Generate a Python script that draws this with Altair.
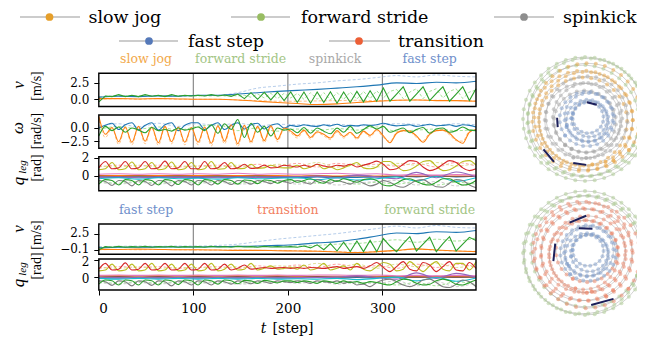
import altair as alt
import numpy as np
import pandas as pd

SERIF = "DejaVu Serif"
SERIF2 = "Liberation Serif"
W, H = 629, 329

# ---------------- time grids (simulation steps) ----------------
T7 = list(range(0, 400, 7))    # 58 samples 0..399
T21 = list(range(0, 400, 21))  # 20 samples 0..399

SEG_TOP = ["slow jog", "forward stride", "spinkick", "fast step"]
SEG_TOP_T = [50, 150, 250, 350]
SEG_BOT = ["fast step", "transition", "forward stride"]
SEG_BOT_T = [50, 200, 350]
SEP_TOP = [100, 200, 300]
SEP_BOT = [100, 300]
LEGEND = ["slow jog", "forward stride", "spinkick", "fast step", "transition"]

# ---------------- upper block: v [m/s] ----------------
V1_GREEN = ([-0.4, 0.5, 0.4, 0.7, 0.4, 0.6, 0.4, 0.7, 0.45, 0.6, 0.4, 0.7, 0.45, 0.6, 0.5]
            + [0.6, 0.5, 0.7, 0.5, 0.65, 0.45, 0.8, 0.1, 1.0, 0.0, 1.05, -0.1, 1.1, -0.2]
            + [1.1, -0.5, 1.1, -0.6, 1.1, -0.5, 1.15, -0.6, 1.1, -0.5, 1.2, -0.4, 1.3, -0.3]
            + [1.7, -0.3, 0.8, 1.9, -0.3, 0.8, 1.9, -0.2, 0.9, 1.9, -0.3, 0.8, 1.9, -0.2, 1.6])
V1_LGREEN = ([0.3, 0.4, 0.45, 0.5, 0.45, 0.5, 0.45, 0.5, 0.5, 0.5, 0.45, 0.5, 0.5, 0.5, 0.5]
             + [0.5, 0.55, 0.5, 0.6, 0.5, 0.6, 0.5, 0.6, 0.3, 0.8, 0.2, 0.9, 0.1, 0.9]
             + [0.2, 0.9, 0.0, 1.0, 0.0, 1.0, -0.1, 1.0, 0.0, 1.1, 0.0, 1.2, 0.1, 1.3]
             + [0.2, 1.2, 1.5, 0.1, 1.1, 1.6, 0.1, 1.2, 1.6, 0.2, 1.2, 1.6, 0.1, 1.1, 1.4])
V1_BLUE = [0.3, 0.45, 0.4, 0.5, 0.45, 0.6, 0.6, 0.8, 1.0, 1.2, 1.35, 1.5, 1.7, 1.9, 2.15, 2.5, 2.4, 2.6, 2.5, 2.75]
V1_LBLUE = [0.4, 0.55, 0.5, 0.55, 0.5, 0.55, 0.6, 1.0, 1.7, 2.0, 2.3, 2.5, 2.8, 3.0, 3.3, 3.6, 3.4, 3.7, 3.5, 3.4]
V1_ORANGE = [0.1, 0.1, 0.05, 0.1, 0.05, 0.0, 0.0, -0.1, -0.3, -0.5, -0.65, -0.8, -0.7, -0.5, -0.3, -0.15, -0.1, -0.2, -0.2, -0.3]
V1_LORANGE = [0.0, 0.1, 0.0, 0.1, 0.0, 0.0, 0.0, -0.1, -0.2, -0.3, -0.3, -0.25, -0.2, -0.15, -0.2, -0.15, -0.1, -0.15, -0.2, -0.25]

# ---------------- upper block: omega [rad/s] ----------------
W1_BLUE = ([0.0, 0.5, 0.9, -0.3, 0.6, 1.0, -0.4, 0.5, 1.0, -0.4, 0.6, 1.0, -0.5, 0.5, 1.0]
           + [1.0, -0.3, 0.5, 1.0, -0.3, 0.5, 1.0, -0.2, 0.6, 0.9, -0.2, 0.5, 0.8, 0.0]
           + [0.5, 0.3, 0.6, 0.4, 0.3, 0.6, 0.4, 0.7, 0.3, 0.5, 0.4, 0.6, 0.5, 0.6]
           + [0.9, 0.6, 0.4, 0.5, 0.6, 0.3, 0.5, 0.7, 0.4, 0.5, 0.6, 0.3, 0.6, 0.5, 0.2])
W1_ORANGE = ([2.2, -1.2, 0.1, -2.6, 0.2, -2.7, 0.3, -2.5, 0.2, -2.8, 0.3, -2.6, 0.2, -2.7, 0.1]
             + [-2.7, 0.2, -2.9, 0.4, -2.5, 0.6, -3.0, 0.5, -2.6, 0.3, -2.4, 0.4, -2.2, 0.0]
             + [-0.6, -1.5, -0.4, -1.8, -0.7, -1.2, -1.9, -0.5, -1.6, -0.8, -1.9, -0.6, -1.4, -0.3]
             + [-1.5, -2.8, -1.0, -0.5, -0.6, -1.5, -2.7, -1.2, -0.5, -0.4, -1.0, -2.2, -2.9, -0.8, -0.3])
W1_GREEN = ([-1.5, 0.3, -0.5, 0.2, -0.8, 0.0, -0.4, -0.9, 0.1, -0.5, -0.3, -0.6, 0.0, -0.4, -0.2]
            + [0.2, -0.5, 0.6, -1.0, 0.8, -0.3, 1.6, -1.8, 0.9, -0.8, 0.3, -1.5, 0.0, -0.4]
            + [-0.2, -0.9, 0.1, -1.0, 0.0, -0.6, -1.1, 0.0, -0.8, 0.3, -1.0, -0.3, 0.4, -0.2]
            + [0.3, -0.8, -0.4, 0.0, -0.9, -0.3, 0.1, -1.0, -0.2, 0.0, -0.8, -0.5, 0.2, -0.4, -0.5])
W1_LORANGE = ([1.5, -1.8, 0.0, -3.1, 0.0, -3.2, 0.1, -3.0, 0.0, -3.3, 0.1, -3.0, 0.0, -3.2, -0.1]
              + [-3.2, 0.0, -3.4, 0.2, -3.0, 0.3, -3.5, 0.2, -3.0, 0.1, -2.8, 0.1, -2.6, -0.2]
              + [-0.9, -1.9, -0.6, -2.1, -0.9, -1.5, -2.2, -0.8, -1.9, -1.0, -2.2, -0.8, -1.7, -0.5]
              + [-1.8, -2.5, -0.8, -0.4, -0.7, -1.8, -2.4, -0.9, -0.4, -0.5, -1.3, -2.4, -2.5, -0.6, -0.4])
W1_LGREEN = [-0.3, 0.3, -0.2, 0.2, -0.4, 0.3, 0.6, -0.5, 0.0, -0.6, -0.2, -0.5, -0.1, -0.4, 0.2, -0.6, -0.4, -0.2, -0.5, -0.3]
W1_LBLUE = [0.3, 0.8, 0.2, 0.9, 0.3, 0.8, 0.5, 0.9, 0.4, 0.7, 0.6, 0.5, 0.7, 0.4, 0.6, 0.8, 0.7, 0.5, 0.8, 0.6]

# ---------------- upper block: q_leg [rad] ----------------
Q1_RED = ([0.9, 1.6, 0.8, 0.9, 1.6, 0.8, 0.9, 1.6, 0.8, 0.9, 1.65, 0.8, 0.9, 1.6, 0.8]
          + [0.8, 1.6, 0.8, 0.9, 1.5, 0.8, 0.9, 1.3, 0.85, 0.9, 1.2, 0.9, 0.95, 1.2]
          + [1.1, 1.0, 1.2, 1.0, 1.3, 1.1, 1.0, 1.2, 1.1, 1.3, 1.0, 1.2, 1.4, 1.65]
          + [1.3, 0.7, 0.8, 1.3, 1.7, 1.6, 1.0, 0.6, 0.8, 1.3, 1.7, 1.5, 0.9, 0.6, 0.8])
Q1_OLIVE = ([0.7, 0.8, 1.5, 0.7, 0.8, 1.55, 0.7, 0.8, 1.5, 0.7, 0.8, 1.55, 0.7, 0.8, 1.5]
            + [0.7, 0.8, 1.6, 0.75, 0.8, 1.5, 0.8, 0.85, 1.3, 0.85, 0.9, 1.2, 0.95, 0.9]
            + [0.9, 1.2, 0.8, 1.0, 1.3, 0.8, 1.0, 0.7, 0.9, 1.2, 1.5, 0.9, 0.8, 1.0]
            + [1.6, 1.6, 1.1, 0.6, 0.7, 1.1, 1.6, 1.7, 1.1, 0.6, 0.7, 1.1, 1.6, 1.7, 1.2])
Q1_GRAY = ([-0.5, -0.6, -1.05, -0.5, -0.6, -1.1, -0.5, -0.6, -1.05, -0.5, -0.6, -1.1, -0.5, -0.6, -1.0]
           + [-0.5, -0.6, -1.0, -0.5, -0.6, -0.95, -0.5, -0.6, -0.9, -0.5, -0.6, -0.85, -0.5, -0.6]
           + [-0.8, -0.5, -0.7, -0.9, -0.4, -0.6, -0.8, -0.5, -0.7, -0.9, -0.5, -0.8, -1.1, -0.9]
           + [-0.5, -0.7, -1.1, -1.25, -0.9, -0.5, -0.4, -0.8, -1.2, -1.25, -0.8, -0.4, -0.5, -1.0, -1.3])
Q1_GREEN = ([-0.9, -0.4, -0.5, -1.0, -0.4, -0.5, -1.0, -0.4, -0.5, -1.0, -0.4, -0.5, -0.95, -0.4, -0.5]
            + [-1.0, -0.4, -0.5, -0.9, -0.4, -0.5, -0.9, -0.45, -0.5, -0.85, -0.45, -0.5, -0.8, -0.5]
            + [-0.4, -0.7, -0.5, -0.3, -0.6, -0.8, -0.4, -0.6, -0.3, -0.5, -0.7, -0.4, -0.3, -0.5]
            + [-1.0, -1.1, -0.8, -0.4, -0.3, -0.6, -0.9, -1.0, -0.7, -0.3, -0.3, -0.7, -1.0, -0.9, -0.5])
Q1_CYAN = [-0.3, -0.2, -0.35, -0.2, -0.3, -0.25, -0.35, -0.2, -0.3, -0.25, -0.2, -0.4, -0.2, -0.45, -0.3, -0.1, -0.55, -0.05, -0.6, -0.2]
Q1_PURPLE = [-0.15, -0.1, -0.2, -0.1, -0.15, -0.1, -0.2, -0.1, -0.15, -0.1, -0.1, 0.0, -0.2, 0.1, -0.1, -0.3, 0.4, -0.2, 0.45, -0.1]
Q1_PINK = [0.2, 0.25, 0.2, 0.25, 0.2, 0.25, 0.2, 0.3, 0.2, 0.25, 0.2, 0.25, 0.3, 0.2, 0.25, 0.1, 0.15, 0.1, 0.15, 0.1]
Q1_ORANGE = [0.05, 0.05, 0.05, 0.05, 0.05, 0.05, 0.05, 0.05, 0.05, 0.05, 0.0, 0.05, 0.0, 0.05, 0.0, 0.0, 0.0, 0.0, 0.0, 0.0]
Q1_BLUE = [-0.1, -0.15, -0.1, -0.15, -0.1, -0.15, -0.1, -0.15, -0.1, -0.15, -0.2, -0.1, -0.2, -0.15, -0.1, 0.0, -0.1, 0.05, -0.1, 0.0]
Q1_BROWN = [0.0, -0.05, 0.0, -0.05, 0.0, -0.05, 0.0, -0.05, 0.0, -0.05, -0.05, 0.0, -0.05, 0.0, -0.05, -0.05, -0.05, -0.05, -0.05, -0.05]
Q1_LGREEN = [-0.6, -0.8, -0.6, -0.8, -0.6, -0.7, -0.6, -0.8, -0.6, -0.7, -0.5, -0.8, -0.6, -0.9, -0.7, -0.9, -0.6, -1.0, -0.7, -0.9]
Q1_LGRAY = [-0.7, -0.9, -0.7, -0.9, -0.7, -0.8, -0.7, -0.9, -0.8, -0.6, -0.9, -0.7, -1.0, -0.8, -0.6, -0.5, -1.0, -0.6, -1.1, -0.7]
Q1_LRED = [1.0, 1.2, 1.1, 1.2, 1.0, 1.1, 1.2, 1.0, 1.3, 1.1, 1.4, 1.0, 1.4, 1.2, 1.3, 1.1, 1.4, 1.0, 1.5, 1.1]
Q1_LOLIVE = [1.1, 1.0, 1.2, 1.0, 1.1, 1.1, 1.0, 1.2, 0.9, 1.3, 1.1, 1.5, 1.0, 1.3, 1.0, 1.4, 1.2, 1.5, 1.1, 1.4]

# ---------------- lower block: v [m/s] ----------------
V2_GREEN = ([0.0, 0.5, 0.4, 0.55, 0.4, 0.5, 0.45, 0.55, 0.4, 0.5, 0.45, 0.55, 0.4, 0.5, 0.45]
            + [0.5, 0.4, 0.55, 0.45, 0.5, 0.4, 0.55, 0.45, 0.5, 0.4, 0.55, 0.45, 0.5, 0.45]
            + [0.5, 0.4, 0.6, 0.3, 0.8, 0.0, 1.0, -0.2, 1.2, -0.3, 1.4, -0.3, 1.5, -0.3]
            + [1.8, 0.6, -0.3, 1.0, 2.1, -0.2, 0.9, 2.0, -0.3, 1.0, 2.1, -0.2, 0.9, 2.0, 1.5])
V2_LGREEN = [0.4, 0.45, 0.45, 0.5, 0.45, 0.5, 0.5, 0.55, 0.5, 0.6, 0.6, 0.7, 0.9, 1.0, 1.3, 1.6, 1.2, 1.7, 1.4, 1.9]
V2_BLUE = [0.3, 0.4, 0.4, 0.45, 0.45, 0.45, 0.5, 0.55, 0.6, 0.7, 0.85, 1.1, 1.3, 1.7, 2.2, 2.7, 2.6, 2.9, 2.8, 3.1]
V2_LBLUE = [0.5, 0.55, 0.6, 0.55, 0.6, 0.6, 0.7, 0.9, 1.3, 1.7, 2.0, 2.3, 2.6, 3.0, 3.4, 3.8, 3.5, 3.9, 3.6, 3.5]
V2_ORANGE = [0.1, 0.05, 0.1, 0.05, 0.0, 0.0, -0.05, -0.1, -0.1, -0.15, -0.2, -0.25, -0.35, -0.45, -0.3, -0.1, 0.15, -0.05, -0.2, -0.3]
V2_LORANGE = [0.0, 0.05, 0.0, 0.05, 0.0, -0.05, -0.05, -0.05, -0.1, -0.1, -0.15, -0.2, -0.3, -0.4, -0.3, -0.15, 0.1, -0.1, -0.2, -0.25]

# ---------------- lower block: q_leg [rad] ----------------
Q2_RED = ([0.9, 1.6, 0.8, 0.9, 1.65, 0.8, 0.9, 1.6, 0.8, 0.9, 1.6, 0.8, 0.9, 1.6, 0.8]
          + [0.9, 1.6, 0.8, 0.9, 1.5, 0.8, 1.0, 1.4, 0.9, 1.0, 1.1, 1.0, 1.05, 1.1]
          + [1.0, 1.1, 1.0, 1.1, 1.05, 1.0, 1.1, 1.2, 1.0, 1.1, 1.2, 1.0, 1.3, 1.7]
          + [1.1, 0.6, 1.2, 1.8, 0.9, 0.7, 1.7, 1.4, 0.6, 1.2, 1.8, 0.8, 0.7, 1.7, 1.0])
Q2_OLIVE = ([0.7, 0.8, 1.5, 0.7, 0.8, 1.5, 0.7, 0.8, 1.6, 0.7, 0.8, 1.5, 0.7, 0.8, 1.5]
            + [0.7, 0.8, 1.6, 0.7, 0.9, 1.5, 0.8, 0.9, 1.6, 0.8, 1.0, 1.3, 0.9, 1.0]
            + [1.1, 0.9, 1.4, 0.8, 1.0, 1.6, 0.8, 1.0, 1.3, 0.8, 1.6, 0.9, 0.7, 1.2]
            + [1.7, 1.5, 0.7, 0.9, 1.8, 1.2, 0.6, 1.3, 1.8, 0.9, 0.7, 1.6, 1.6, 0.8, 1.8])
Q2_GRAY = ([-0.5, -0.6, -1.05, -0.5, -0.6, -1.1, -0.5, -0.6, -1.05, -0.5, -0.6, -1.1, -0.5, -0.6, -1.0]
           + [-0.5, -0.6, -1.0, -0.5, -0.6, -0.9, -0.5, -0.6, -0.85, -0.5, -0.6, -0.8, -0.5, -0.6]
           + [-0.7, -0.5, -0.6, -0.8, -0.5, -0.6, -0.7, -0.5, -0.8, -0.6, -1.0, -0.9, -1.2, -0.7]
           + [-0.4, -0.3, -0.6, -1.0, -1.2, -0.9, -0.4, -0.3, -0.7, -1.2, -1.3, -0.9, -0.4, -0.6, -1.2])
Q2_GREEN = ([-0.9, -0.4, -0.5, -1.0, -0.4, -0.5, -1.0, -0.4, -0.5, -1.0, -0.4, -0.5, -0.95, -0.4, -0.5]
            + [-1.0, -0.4, -0.5, -0.9, -0.4, -0.5, -0.85, -0.45, -0.5, -0.8, -0.45, -0.55, -0.75, -0.5]
            + [-0.5, -0.7, -0.5, -0.6, -0.8, -0.5, -0.6, -0.8, -0.5, -0.7, -0.6, -0.8, -0.6, -0.7]
            + [-0.9, -1.0, -0.6, -0.3, -0.4, -0.8, -1.0, -0.9, -0.5, -0.3, -0.5, -0.9, -1.0, -0.7, -0.4])
Q2_CYAN = [-0.2, -0.3, -0.2, -0.3, -0.2, -0.3, -0.2, -0.3, -0.2, -0.3, -0.25, -0.3, -0.2, -0.35, -0.2, -0.05, -0.5, -0.1, -0.55, -0.15]
Q2_PURPLE = [-0.1, -0.15, -0.1, -0.15, -0.1, -0.15, -0.1, -0.15, -0.1, -0.15, -0.1, -0.1, -0.05, 0.1, -0.1, -0.3, 0.45, -0.2, 0.4, -0.1]
Q2_PINK = [0.15, 0.2, 0.15, 0.2, 0.15, 0.2, 0.15, 0.2, 0.15, 0.2, 0.15, 0.2, 0.2, 0.15, 0.2, 0.1, 0.15, 0.1, 0.15, 0.1]
Q2_ORANGE = [0.1, 0.1, 0.1, 0.1, 0.1, 0.1, 0.1, 0.1, 0.1, 0.1, 0.05, 0.05, 0.05, 0.05, 0.05, 0.0, 0.0, 0.0, 0.0, 0.0]
Q2_BLUE = [-0.1, -0.15, -0.1, -0.15, -0.1, -0.15, -0.1, -0.15, -0.1, -0.15, -0.15, -0.1, -0.2, -0.1, -0.15, 0.0, -0.1, 0.05, -0.1, 0.0]
Q2_BROWN = [-0.05, 0.0, -0.05, 0.0, -0.05, 0.0, -0.05, 0.0, -0.05, 0.0, -0.05, 0.0, -0.05, 0.0, -0.05, -0.05, -0.05, -0.05, -0.05, -0.05]
Q2_LGREEN = [-0.6, -0.8, -0.6, -0.8, -0.6, -0.7, -0.6, -0.8, -0.6, -0.7, -0.5, -0.7, -0.6, -0.8, -0.7, -1.0, -0.7, -1.1, -0.6, -1.0]
Q2_LGRAY = [-0.7, -0.9, -0.7, -0.9, -0.7, -0.8, -0.7, -0.9, -0.8, -0.6, -0.8, -0.6, -0.9, -0.7, -0.8, -0.5, -1.1, -0.6, -1.2, -0.7]
Q2_LRED = [1.0, 1.2, 1.1, 1.2, 1.0, 1.1, 1.2, 1.0, 1.3, 1.1, 1.4, 1.1, 1.5, 1.2, 1.3, 1.0, 1.5, 1.1, 1.5, 1.1]
Q2_LOLIVE = [1.1, 1.0, 1.2, 1.0, 1.1, 1.1, 1.0, 1.2, 1.0, 1.3, 1.2, 1.6, 1.1, 1.5, 1.0, 1.5, 1.2, 1.6, 1.1, 1.5]

# ---------------- trajectory rings (normalised radius, centre shift) ----------------
TOP_RING_R = [1.0, 0.95, 0.9, 0.86, 0.81, 0.76, 0.71, 0.66, 0.61, 0.56, 0.5, 0.44, 0.39, 0.34, 0.29, 0.25]
TOP_RING_DX = [0.0, 0.03, -0.03, 0.04, -0.04, 0.01, -0.03, 0.03, -0.04, 0.04, 0.0, 0.03, 0.06, 0.04, 0.07, 0.05]
TOP_RING_DY = [0.0, -0.03, 0.03, -0.04, 0.03, 0.0, 0.04, -0.03, 0.03, -0.02, 0.04, 0.0, -0.03, 0.03, 0.0, -0.02]
TOP_RING_N = [40, 40, 38, 36, 34, 34, 32, 30, 28, 28, 26, 24, 22, 22, 20, 18]
TOP_RING_KIND = (["forward stride"] * 3 + ["slow jog"] * 4 + ["spinkick"] * 4 + ["fast step"] * 5)
BOT_RING_R = [1.0, 0.95, 0.9, 0.85, 0.8, 0.74, 0.68, 0.62, 0.56, 0.5, 0.45, 0.4, 0.35, 0.3, 0.25]
BOT_RING_DX = [0.0, -0.03, 0.03, 0.04, -0.04, 0.03, -0.03, 0.04, -0.02, 0.03, 0.05, 0.06, 0.03, 0.07, 0.05]
BOT_RING_DY = [0.0, 0.03, -0.03, 0.04, -0.03, 0.03, -0.04, 0.02, 0.03, -0.03, 0.0, -0.03, 0.03, 0.0, -0.04]
BOT_RING_N = [40, 40, 38, 34, 34, 32, 30, 30, 28, 26, 24, 22, 22, 20, 18]
BOT_RING_KIND = (["forward stride"] * 3 + ["transition"] * 7 + ["fast step"] * 5)
TOP_ARROWS = [(0.03, -0.27, 0.19, -0.23), (-0.45, -0.02, -0.44, 0.13),
              (-0.67, 0.49, -0.50, 0.69), (-0.19, 0.71, 0.02, 0.74)]
BOT_ARROWS = [(-0.25, -0.49, 0.02, -0.60), (-0.10, -0.40, 0.12, -0.39), (-0.48, -0.15, -0.51, 0.13),
              (0.89, -0.12, 0.93, 0.15), (0.10, 0.84, 0.46, 0.74)]

# ---------------- styles ----------------
TAB = dict(blue="#1f77b4", orange="#ff7f0e", green="#2ca02c", red="#d62728", purple="#9467bd",
           brown="#8c564b", pink="#e377c2", gray="#7f7f7f", olive="#bcbd22", cyan="#17becf",
           lblue="#aec7e8", lorange="#ffbb78", lgreen="#98df8a", lred="#ff9896", lgray="#c7c7c7",
           lolive="#dbdb8d")
MODE_DOT = {"slow jog": "#e69f2a", "forward stride": "#98bd62", "spinkick": "#8e8e8e",
            "fast step": "#5579b9", "transition": "#ec5f36"}
MODE_TEXT = {"slow jog": "#f2a94b", "forward stride": "#a3c585", "spinkick": "#a8a8a8",
             "fast step": "#6f8fcb", "transition": "#f28062"}
RING_DOT = {"slow jog": "#eaa43f", "forward stride": "#a9c98e", "spinkick": "#a6a6a6",
            "fast step": "#7f9dcb", "transition": "#ee8466"}

SERIES = [
    ("v1", "lblue", T21, V1_LBLUE, "lblue", True, "monotone"),
    ("v1", "lorange", T21, V1_LORANGE, "lorange", True, "monotone"),
    ("v1", "lgreen", T7, V1_LGREEN, "lgreen", True, "linear"),
    ("v1", "blue", T21, V1_BLUE, "blue", False, "monotone"),
    ("v1", "orange", T21, V1_ORANGE, "orange", False, "monotone"),
    ("v1", "green", T7, V1_GREEN, "green", False, "linear"),
    ("w1", "lblue", T21, W1_LBLUE, "lblue", True, "monotone"),
    ("w1", "lgreen", T21, W1_LGREEN, "lgreen", True, "monotone"),
    ("w1", "lorange", T7, W1_LORANGE, "lorange", True, "monotone"),
    ("w1", "blue", T7, W1_BLUE, "blue", False, "monotone"),
    ("w1", "orange", T7, W1_ORANGE, "orange", False, "monotone"),
    ("w1", "green", T7, W1_GREEN, "green", False, "monotone"),
    ("q1", "lred", T21, Q1_LRED, "lred", True, "monotone"),
    ("q1", "lolive", T21, Q1_LOLIVE, "lolive", True, "monotone"),
    ("q1", "lgreen", T21, Q1_LGREEN, "lgreen", True, "monotone"),
    ("q1", "lgray", T21, Q1_LGRAY, "lgray", True, "monotone"),
    ("q1", "blue", T21, Q1_BLUE, "blue", False, "monotone"),
    ("q1", "orange", T21, Q1_ORANGE, "orange", False, "monotone"),
    ("q1", "brown", T21, Q1_BROWN, "brown", False, "monotone"),
    ("q1", "pink", T21, Q1_PINK, "pink", False, "monotone"),
    ("q1", "purple", T21, Q1_PURPLE, "purple", False, "monotone"),
    ("q1", "cyan", T21, Q1_CYAN, "cyan", False, "monotone"),
    ("q1", "gray", T7, Q1_GRAY, "gray", False, "monotone"),
    ("q1", "green", T7, Q1_GREEN, "green", False, "monotone"),
    ("q1", "olive", T7, Q1_OLIVE, "olive", False, "monotone"),
    ("q1", "red", T7, Q1_RED, "red", False, "monotone"),
    ("v2", "lblue", T21, V2_LBLUE, "lblue", True, "monotone"),
    ("v2", "lorange", T21, V2_LORANGE, "lorange", True, "monotone"),
    ("v2", "lgreen", T21, V2_LGREEN, "lgreen", True, "monotone"),
    ("v2", "blue", T21, V2_BLUE, "blue", False, "monotone"),
    ("v2", "orange", T21, V2_ORANGE, "orange", False, "monotone"),
    ("v2", "green", T7, V2_GREEN, "green", False, "linear"),
    ("q2", "lred", T21, Q2_LRED, "lred", True, "monotone"),
    ("q2", "lolive", T21, Q2_LOLIVE, "lolive", True, "monotone"),
    ("q2", "lgreen", T21, Q2_LGREEN, "lgreen", True, "monotone"),
    ("q2", "lgray", T21, Q2_LGRAY, "lgray", True, "monotone"),
    ("q2", "blue", T21, Q2_BLUE, "blue", False, "monotone"),
    ("q2", "orange", T21, Q2_ORANGE, "orange", False, "monotone"),
    ("q2", "brown", T21, Q2_BROWN, "brown", False, "monotone"),
    ("q2", "pink", T21, Q2_PINK, "pink", False, "monotone"),
    ("q2", "purple", T21, Q2_PURPLE, "purple", False, "monotone"),
    ("q2", "cyan", T21, Q2_CYAN, "cyan", False, "monotone"),
    ("q2", "gray", T7, Q2_GRAY, "gray", False, "monotone"),
    ("q2", "green", T7, Q2_GREEN, "green", False, "monotone"),
    ("q2", "olive", T7, Q2_OLIVE, "olive", False, "monotone"),
    ("q2", "red", T7, Q2_RED, "red", False, "monotone"),
]

rows = []
for panel_key, name, grid, vals, ckey, dashed, interp in SERIES:
    for t, v in zip(grid, vals):
        rows.append(dict(panel=panel_key, name=f"{panel_key}_{name}", t=t, val=v,
                         color=TAB[ckey], dashed=dashed, interp=interp))
LINES = pd.DataFrame(rows)

# ---------------- layout (chart pixel coordinates) ----------------
X_RANGE = [90.8, 468]
PANELS = {
    "v1": dict(domain=[-1.1, 3.95], range=[98.5, 65.3], ticks=[0, 2.5], fmt=".1f", seps=SEP_TOP, lo=0),
    "w1": dict(domain=[-3.85, 2.46], range=[140.3, 107], ticks=[-2.5, 0], fmt=".1f", seps=SEP_TOP, lo=0),
    "q1": dict(domain=[-1.63, 2.14], range=[182.7, 148.7], ticks=[0, 2], fmt="d", seps=SEP_TOP, lo=0),
    "v2": dict(domain=[-0.73, 4.14], range=[246.3, 216], ticks=[-0.1, 2.5], fmt=".1f", seps=SEP_BOT, lo=-1.5),
    "q2": dict(domain=[-1.6, 2.12], range=[282, 251], ticks=[0, 2], fmt="d", seps=SEP_BOT, lo=1.5),
}


def panel(key, xaxis=None, seg_names=None, seg_t=None, seg_y=None):
    cfg = PANELS[key]
    xs = alt.Scale(domain=[0, 399], range=X_RANGE, nice=False, zero=False)
    ys = alt.Scale(domain=cfg["domain"], range=cfg["range"], nice=False, zero=False)
    yax = alt.Axis(orient="left", offset=-X_RANGE[0], values=cfg["ticks"], format=cfg["fmt"],
                   domain=False, grid=False, tickSize=5, tickColor="black", tickWidth=1,
                   labelFont=SERIF, labelFontSize=12, labelColor="black", labelPadding=5,
                   labelOffset=cfg["lo"], title=None)

    def X(f):
        return alt.X(f, scale=xs, axis=xaxis)

    def Y(f):
        return alt.Y(f, scale=ys, axis=yax)

    dmin, dmax = cfg["domain"]
    sep = pd.DataFrame({"t": cfg["seps"], "y0": dmin, "y1": dmax})
    layers = [alt.Chart(sep).mark_rule(color="#8a8a8a", strokeWidth=1.2).encode(
        x=X("t:Q"), y=Y("y0:Q"), y2="y1:Q")]
    sub = LINES[LINES.panel == key]
    for dashed in (True, False):
        for interp in ("monotone", "linear"):
            d = sub[(sub.dashed == dashed) & (sub.interp == interp)]
            if d.empty:
                continue
            kw = dict(interpolate=interp, strokeWidth=0.9 if dashed else 1.1, clip=True)
            if dashed:
                kw["strokeDash"] = [3, 2]
            layers.append(alt.Chart(d).mark_line(**kw).encode(
                x=X("t:Q"), y=Y("val:Q"), color=alt.Color("color:N", scale=None), detail="name:N"))
    frame = pd.DataFrame({"x0": [0], "x1": [399], "y0": [dmin], "y1": [dmax]})
    layers.append(alt.Chart(frame).mark_rect(fillOpacity=0, stroke="black", strokeWidth=1.4).encode(
        x=X("x0:Q"), x2="x1:Q", y=Y("y0:Q"), y2="y1:Q"))
    if seg_names:
        seg = pd.DataFrame({"t": seg_t, "label": seg_names,
                            "color": [MODE_TEXT[s] for s in seg_names]})
        layers.append(alt.Chart(seg).mark_text(font=SERIF, fontSize=12.5, baseline="middle").encode(
            x=X("t:Q"), y=alt.value(seg_y), text="label:N", color=alt.Color("color:N", scale=None)))
    return alt.layer(*layers)


XAXIS = alt.Axis(orient="bottom", offset=-(H - 282), values=[0, 100, 200, 300], format="d",
                 domain=False, grid=False, tickSize=5, tickColor="black", tickWidth=1,
                 labelFont=SERIF, labelFontSize=13.5, labelColor="black", labelPadding=6, title=None)

panels = [
    panel("v1", seg_names=SEG_TOP, seg_t=SEG_TOP_T, seg_y=51),
    panel("w1"),
    panel("q1"),
    panel("v2", seg_names=SEG_BOT, seg_t=SEG_BOT_T, seg_y=202),
    panel("q2", xaxis=XAXIS),
]


# ---------------- trajectory circles ----------------
def circle_view(R, DX, DY, N, KIND, arrows, yrange, tag):
    rows = []
    for i, (r, dx, dy, n, kind) in enumerate(zip(R, DX, DY, N, KIND)):
        ph = 13.0 * i
        for k in range(n + 1):
            a = np.deg2rad(ph + 360.0 * k / n)
            rows.append(dict(ring=f"{tag}{i}", k=k, cx=dx + r * np.cos(a), cy=dy + r * np.sin(a),
                             color=RING_DOT[kind]))
    df = pd.DataFrame(rows)
    xs = alt.Scale(domain=[-1, 1], range=[515, 639], nice=False, zero=False)
    ys = alt.Scale(domain=[-1, 1], range=yrange, nice=False, zero=False)
    X = lambda f: alt.X(f, scale=xs, axis=None)
    Y = lambda f: alt.Y(f, scale=ys, axis=None)
    lines = alt.Chart(df).mark_line(color="#a8a8a8", strokeWidth=0.6, opacity=0.85).encode(
        x=X("cx:Q"), y=Y("cy:Q"), detail="ring:N", order="k:Q")
    pts = alt.Chart(df).mark_circle(size=16, opacity=0.5).encode(
        x=X("cx:Q"), y=Y("cy:Q"), color=alt.Color("color:N", scale=None))
    adf = pd.DataFrame(arrows, columns=["x0", "y0", "x1", "y1"])
    arr = alt.Chart(adf).mark_rule(color="#1c1f5a", strokeWidth=2.0).encode(
        x=X("x0:Q"), y=Y("y0:Q"), x2="x1:Q", y2="y1:Q")
    return alt.layer(lines, pts, arr)


circ_top = circle_view(TOP_RING_R, TOP_RING_DX, TOP_RING_DY, TOP_RING_N, TOP_RING_KIND,
                       TOP_ARROWS, [49, 173], "t")
circ_bot = circle_view(BOT_RING_R, BOT_RING_DX, BOT_RING_DY, BOT_RING_N, BOT_RING_KIND,
                       BOT_ARROWS, [183, 307], "b")

# ---------------- legend ----------------
LEG_LAYOUT = {  # dot y, line x0, line x1, dot x, text x
    "slow jog": (9.0, 12, 72, 41.5, 80.5),
    "forward stride": (9.0, 223, 282, 253, 293),
    "spinkick": (9.0, 486, 546, 516, 555),
    "fast step": (33, 111, 170, 141, 180),
    "transition": (33, 321, 382, 351, 390),
}
leg = pd.DataFrame([dict(label=m, y=LEG_LAYOUT[m][0], x0=LEG_LAYOUT[m][1], x1=LEG_LAYOUT[m][2],
                         xd=LEG_LAYOUT[m][3], xt=LEG_LAYOUT[m][4], ty=LEG_LAYOUT[m][0] + 5.5,
                         color=MODE_DOT[m]) for m in LEGEND])
PX = lambda f: alt.X(f, scale=None, axis=None)
PY = lambda f: alt.Y(f, scale=None, axis=None)
leg_lines = alt.Chart(leg).mark_rule(color="#9a9a9a", strokeWidth=1.2).encode(
    x=PX("x0:Q"), x2="x1:Q", y=PY("y:Q"))
leg_dots = alt.Chart(leg).mark_circle(size=60, opacity=1).encode(
    x=PX("xd:Q"), y=PY("y:Q"), color=alt.Color("color:N", scale=None))
leg_text = alt.Chart(leg).mark_text(font=SERIF, fontSize=17.5, align="left", baseline="alphabetic",
                                    color="black").encode(x=PX("xt:Q"), y=PY("ty:Q"), text="label:N")

# ---------------- axis titles ----------------
SYM = pd.DataFrame({"txt": ["v", "ω", "q", "v", "q"],
                    "px": [11, 10, 11, 11, 11], "py": [77, 120, 173, 221, 275]})
SUB = pd.DataFrame({"txt": ["leg", "leg"], "px": [15, 15], "py": [159, 261]})
UNIT = pd.DataFrame({"txt": ["[m/s]", "[rad/s]", "[rad]", "[m/s]", "[rad]"],
                     "px": [29, 29, 29, 29, 29], "py": [78, 123, 160, 227, 258]})
sym = alt.Chart(SYM).mark_text(font=SERIF2, fontSize=17, fontStyle="italic", angle=270,
                               color="black").encode(x=PX("px:Q"), y=PY("py:Q"), text="txt:N")
subs = alt.Chart(SUB).mark_text(font=SERIF2, fontSize=11, fontStyle="italic", angle=270,
                                color="black").encode(x=PX("px:Q"), y=PY("py:Q"), text="txt:N")
units = alt.Chart(UNIT).mark_text(font=SERIF2, fontSize=14, angle=270, color="black").encode(
    x=PX("px:Q"), y=PY("py:Q"), text="txt:N")
XT = pd.DataFrame({"txt": ["t", "[step]"], "px": [255.5, 285], "py": [320.5, 320.5], "it": [True, False]})
xt_i = alt.Chart(XT[XT.it]).mark_text(font=SERIF, fontSize=14, fontStyle="italic", color="black").encode(
    x=PX("px:Q"), y=PY("py:Q"), text="txt:N")
xt_r = alt.Chart(XT[~XT.it]).mark_text(font=SERIF, fontSize=14, color="black").encode(
    x=PX("px:Q"), y=PY("py:Q"), text="txt:N")

chart = alt.layer(
    *panels, circ_top, circ_bot, leg_lines, leg_dots, leg_text, sym, subs, units, xt_i, xt_r
).resolve_scale(x="independent", y="independent").properties(
    width=W, height=H, autosize=alt.AutoSizeParams(type="none"), padding=0
).configure_view(stroke=None)

chart.save("out.html", embed_options={"renderer": "svg", "actions": False})
